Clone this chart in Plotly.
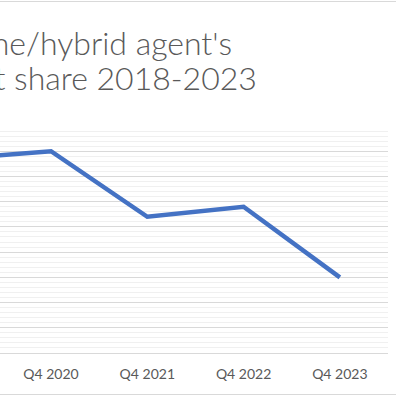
import plotly.graph_objects as go

# Data (percent market share)
quarters = ["Q4 2019", "Q4 2020", "Q4 2021", "Q4 2022", "Q4 2023"]
share = [7.7, 8.0, 5.4, 5.8, 3.0]

title_line1 = "Online/hybrid agent's"
title_line2 = "market share 2018-2023"

W, H = 396, 396
L, R, T, B = 0, 8, 126, 43
plot_h = H - T - B
plot_w = W - L - R

def px_to_paper_y(py):
    return (H - B - py) / plot_h

def px_to_paper_x(px):
    return (px - L) / plot_w

fig = go.Figure()
fig.add_trace(go.Scatter(
    x=quarters, y=share, mode="lines",
    line=dict(color="#4472C4", width=4.5),
    hoverinfo="skip",
))

grey = "#595959"
fig.update_layout(
    width=W, height=H,
    margin=dict(l=L, r=R, t=T, b=B, pad=0),
    paper_bgcolor="white", plot_bgcolor="white",
    showlegend=False,
    font=dict(family="Lato", color=grey),
    xaxis=dict(
        type="category", range=[0.47, 4.5], showgrid=False,
        showline=False, zeroline=False, ticks="",
        tickfont=dict(family="Lato", size=14, color=grey),
        ticklabelstandoff=11,
    ),
    yaxis=dict(
        range=[0, 9], dtick=1, showticklabels=False,
        showgrid=True, gridcolor="#d9d9d9", gridwidth=1,
        zeroline=True, zerolinecolor="#d9d9d9", zerolinewidth=1,
        minor=dict(dtick=0.2, showgrid=True, gridcolor="#f0f0f0", gridwidth=1),
        showline=False,
    ),
    annotations=[
        dict(text=title_line1, xref="paper", yref="paper",
             x=px_to_paper_x(234), y=px_to_paper_y(42), xanchor="right", yanchor="middle",
             showarrow=False, font=dict(family="Lato", size=32, color=grey, weight=300)),
        dict(text=title_line2, xref="paper", yref="paper",
             x=px_to_paper_x(259), y=px_to_paper_y(77), xanchor="right", yanchor="middle",
             showarrow=False, font=dict(family="Lato", size=32, color=grey, weight=300)),
    ],
    shapes=[
        dict(type="line", xref="paper", yref="paper", layer="below",
             x0=px_to_paper_x(-5), x1=px_to_paper_x(400),
             y0=px_to_paper_y(1.5), y1=px_to_paper_y(1.5),
             line=dict(color="#d9d9d9", width=1)),
        dict(type="line", xref="paper", yref="paper", layer="below",
             x0=px_to_paper_x(-5), x1=px_to_paper_x(400),
             y0=px_to_paper_y(394.5), y1=px_to_paper_y(394.5),
             line=dict(color="#d9d9d9", width=1)),
    ],
)

fig.write_html("out.html", config={"displayModeBar": False},
               post_script="document.body.style.margin='0';document.body.style.overflow='hidden';")
